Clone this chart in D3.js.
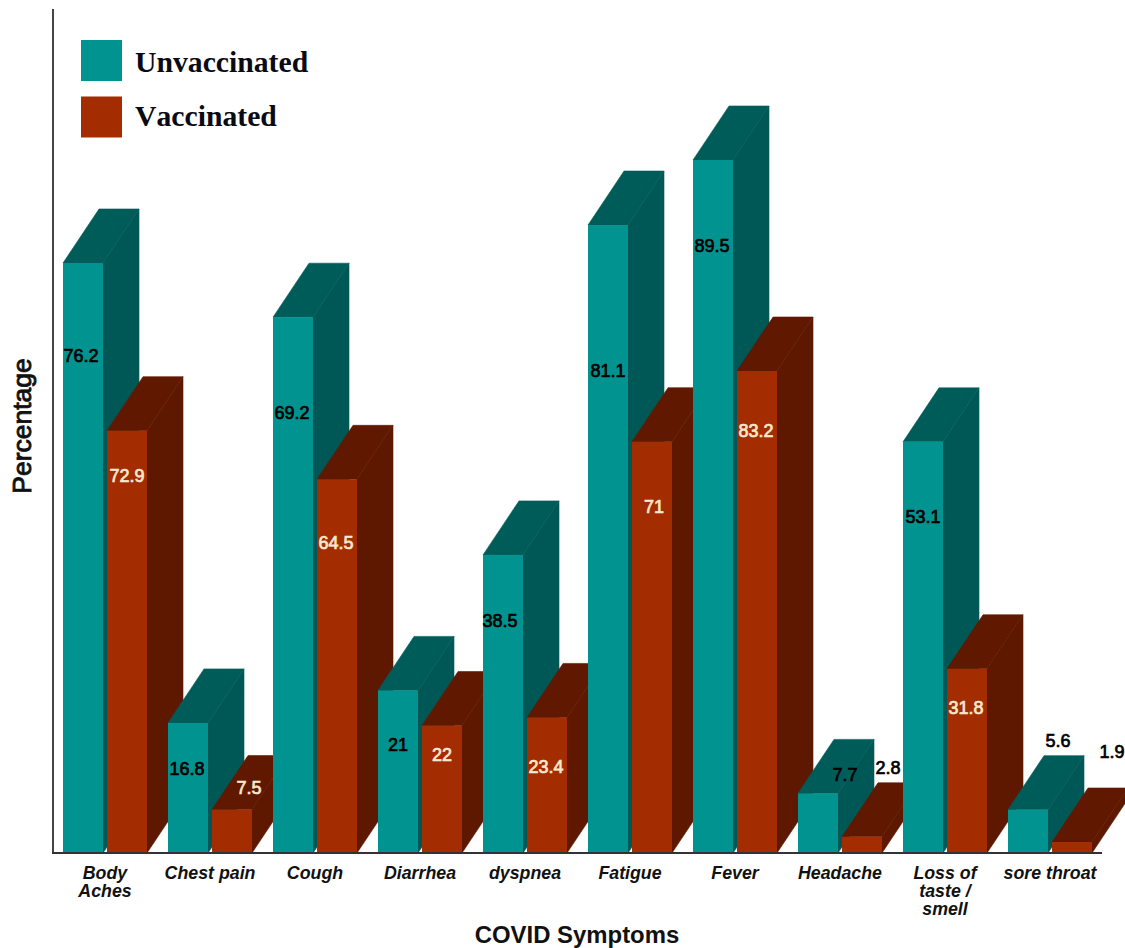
<!DOCTYPE html>
<html>
<head>
<meta charset="utf-8">
<script src="https://cdn.jsdelivr.net/npm/d3@7/dist/d3.min.js"></script>
<style>
html, body { margin: 0; padding: 0; background: #fff; }
svg { display: block; }
</style>
</head>
<body>
<svg id="chart" width="1125" height="948"></svg>
<script>
// Symptom frequencies by vaccination status
const categories = ["Body Aches", "Chest pain", "Cough", "Diarrhea", "dyspnea", "Fatigue", "Fever", "Headache", "Loss of taste / smell", "sore throat"];
const unvaccinated = [76.2, 16.8, 69.2, 21, 38.5, 81.1, 89.5, 7.7, 53.1, 5.6];
const vaccinated = [72.9, 7.5, 64.5, 22, 23.4, 71, 83.2, 2.8, 31.8, 1.9];
const seriesNames = ["Unvaccinated", "Vaccinated"];
const categoryLines = [["Body", "Aches"], ["Chest pain"], ["Cough"], ["Diarrhea"], ["dyspnea"], ["Fatigue"], ["Fever"], ["Headache"], ["Loss of", "taste /", "smell"], ["sore throat"]];

// Hand placement of the value labels, relative to each bar's front top centre
const unvaccinatedLabelShift = [[-2, 93], [-1, 46], [-1, 96], [0, 55], [-3, 66], [0, 146], [-1, 86], [27, -18], [0, 75], [30, -69]];
const vaccinatedLabelShift = [[0, 45], [17, -22], [-1, 64], [0, 29], [-1, 50], [2, 65], [-1, 60], [26, -69], [-1, 39], [40, -90]];

const baseY = 853;
const depthX = 36, depthY = 54;
const palette = {
  Unvaccinated: { front: "#01938f", side: "#005856", top: "#005c59", label: "#000" },
  Vaccinated: { front: "#a32c00", side: "#5e1800", top: "#601900", label: "#f7e8cf" }
};

const svg = d3.select("#chart");

const x0 = d3.scaleBand().domain(categories).range([63, 1113]);
const x1 = d3.scaleBand().domain(seriesNames).range([0, 84]).paddingInner(4 / 44);

// Each series runs on its own vertical scale
const yScales = {
  Unvaccinated: d3.scaleLinear().domain([0, 89.5]).range([baseY, 160]),
  Vaccinated: d3.scaleLinear().domain([0, 83.2]).range([baseY, 371])
};
const values = { Unvaccinated: unvaccinated, Vaccinated: vaccinated };
const shifts = { Unvaccinated: unvaccinatedLabelShift, Vaccinated: vaccinatedLabelShift };

const w = x1.bandwidth();
const poly = pts => pts.map(p => p.join(",")).join(" ");

// Painter's order: left to right, so nearer groups overlap the extruded faces.
// A hairline stroke in the face colour closes the antialiasing seam between faces.
categories.forEach((cat, i) => {
  const g = svg.append("g").attr("class", "group");
  seriesNames.forEach(name => {
    const c = palette[name];
    const left = x0(cat) + x1(name), right = left + w;
    const top = yScales[name](values[name][i]);
    g.append("polygon").attr("fill", c.side).attr("stroke", c.side).attr("stroke-width", 0.6)
      .attr("points", poly([[right, top], [right + depthX, top - depthY], [right + depthX, baseY - depthY], [right, baseY]]));
    g.append("polygon").attr("fill", c.top).attr("stroke", c.top).attr("stroke-width", 0.6)
      .attr("points", poly([[left, top], [left + depthX, top - depthY], [right + depthX, top - depthY], [right, top]]));
    g.append("rect").attr("fill", c.front)
      .attr("x", left).attr("y", top).attr("width", w).attr("height", baseY - top);
  });
});

// Value labels sit above every bar face
seriesNames.forEach(name => {
  categories.forEach((cat, i) => {
    const cx = x0(cat) + x1(name) + w / 2;
    const top = yScales[name](values[name][i]);
    const [dx, dy] = shifts[name][i];
    const onWhite = name === "Vaccinated" && (i === 7 || i === 9);
    const fill = onWhite ? "#000" : palette[name].label;
    svg.append("text")
      .attr("x", cx + dx).attr("y", top + dy)
      .attr("text-anchor", "middle").attr("dominant-baseline", "central")
      .attr("font-family", "'Liberation Sans', Arial, sans-serif")
      .attr("font-size", 18)
      .attr("fill", fill).attr("stroke", fill).attr("stroke-width", 0.7)
      .text(values[name][i]);
  });
});

// Axes
const bottomAxis = d3.axisBottom(x0).tickSize(0).tickFormat("");
const axisG = svg.append("g").attr("transform", `translate(0,${baseY})`).call(bottomAxis);
axisG.select(".domain").remove();

// Category names centre under the pair of bars, not under the full band
const labelShift = (x1.range()[1] - x0.bandwidth()) / 2;
axisG.selectAll(".tick").each(function (d, i) {
  const t = d3.select(this).select("text")
    .attr("y", 0).attr("dy", null)
    .attr("font-family", "'Liberation Sans', Arial, sans-serif")
    .attr("font-size", 17.8).attr("font-weight", "bold").attr("font-style", "italic")
    .attr("fill", "#111").attr("text-anchor", "middle").text(null);
  categoryLines[i].forEach((line, k) => {
    t.append("tspan").attr("x", labelShift).attr("y", 26 + k * 18).text(line);
  });
});

svg.append("line").attr("x1", 53).attr("x2", 53).attr("y1", 9).attr("y2", baseY + 1)
  .attr("stroke", "#444").attr("stroke-width", 2);
svg.append("line").attr("x1", 52).attr("x2", 1102).attr("y1", baseY).attr("y2", baseY)
  .attr("stroke", "#333").attr("stroke-width", 2);

// Axis titles
svg.append("text")
  .attr("transform", "translate(31,426) rotate(-90)")
  .attr("text-anchor", "middle")
  .attr("font-family", "'Liberation Sans', Arial, sans-serif")
  .attr("font-size", 26.5).attr("fill", "#111").attr("stroke", "#111").attr("stroke-width", 0.9)
  .text("Percentage");
svg.append("text")
  .attr("x", 577).attr("y", 943)
  .attr("text-anchor", "middle")
  .attr("font-family", "'Liberation Sans', Arial, sans-serif")
  .attr("font-size", 23.9).attr("font-weight", "bold").attr("fill", "#111")
  .text("COVID Symptoms");

// Legend
const legendSwatchY = d3.scalePoint().domain(seriesNames).range([40, 96.5]);
const legendTextY = d3.scalePoint().domain(seriesNames).range([72, 126]);
seriesNames.forEach(name => {
  svg.append("rect").attr("x", 81).attr("y", legendSwatchY(name)).attr("width", 41).attr("height", 41)
    .attr("fill", palette[name].front);
  svg.append("text")
    .attr("x", 135).attr("y", legendTextY(name))
    .attr("font-family", "'Liberation Serif', 'Times New Roman', serif")
    .attr("font-size", 29.7).attr("font-weight", "bold").attr("fill", "#0a0a14")
    .style("font-kerning", "none")
    .text(name);
});
</script>
</body>
</html>
